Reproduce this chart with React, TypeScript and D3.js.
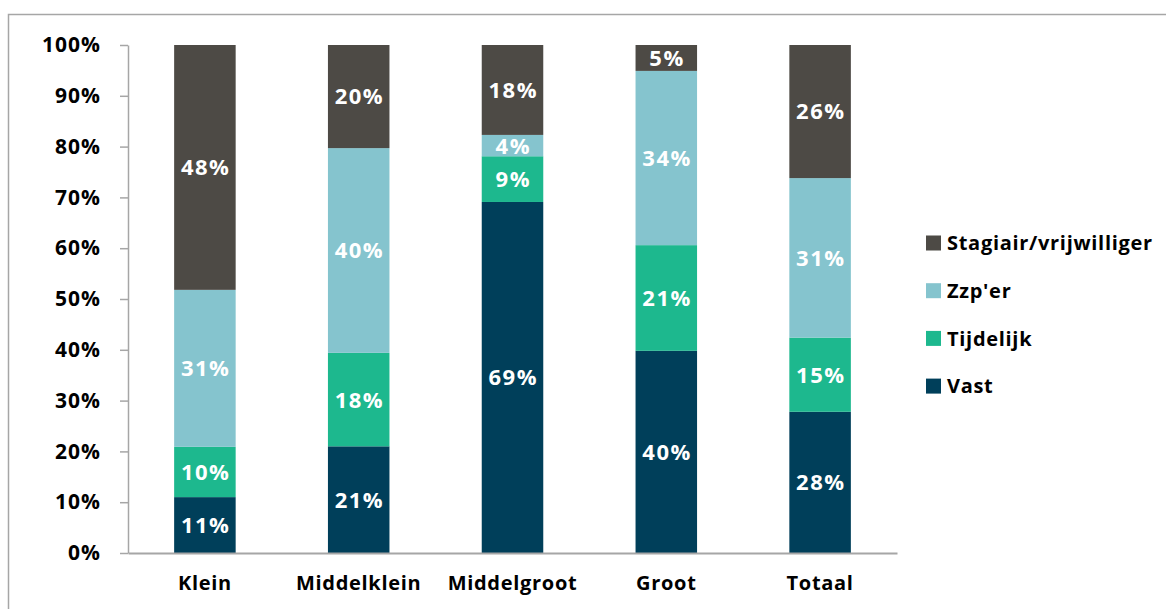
import React, { useEffect, useRef } from 'react';
import * as d3 from 'd3';

const categories = ['Klein', 'Middelklein', 'Middelgroot', 'Groot', 'Totaal'];
const seriesNames = ['Vast', 'Tijdelijk', "Zzp'er", 'Stagiair/vrijwilliger'];
const vast = [11, 21, 69.1, 39.8, 27.8];
const tijdelijk = [9.9, 18.4, 9, 20.8, 14.6];
const zzp = [30.9, 40.3, 4.2, 34.3, 31.4];
const stagiair = [48.2, 20.3, 17.7, 5.1, 26.2];
const yTicks = [0, 10, 20, 30, 40, 50, 60, 70, 80, 90, 100];
const colors = ['#003F5A', '#1DB88E', '#85C4CE', '#4D4A45'];

const App = () => {
  const ref = useRef<SVGSVGElement>(null);

  useEffect(() => {
    const svg = d3.select(ref.current);
    svg.selectAll('*').remove();

    const font = '"Open Sans", Lato, sans-serif';
    const margin = { top: 45, left: 128, right: 897, bottom: 553 };

    // outer frame
    svg.append('rect')
      .attr('x', 8.5).attr('y', 14.5)
      .attr('width', 1200).attr('height', 700)
      .attr('fill', 'none').attr('stroke', '#A6A6A6').attr('stroke-width', 1.5);

    const rows = categories.map((c, i) => ({
      cat: c,
      Vast: vast[i],
      Tijdelijk: tijdelijk[i],
      "Zzp'er": zzp[i],
      'Stagiair/vrijwilliger': stagiair[i],
    }));

    const stack = d3.stack<any>().keys(seriesNames)(rows);

    const x = d3.scaleBand()
      .domain(categories)
      .range([margin.left, margin.right])
      .paddingInner(0.6)
      .paddingOuter(0.3);

    const y = d3.scaleLinear().domain([0, 100]).range([margin.bottom, margin.top]);

    // bars
    stack.forEach((layer, si) => {
      const g = svg.append('g');
      g.selectAll('rect')
        .data(layer)
        .join('rect')
        .attr('x', d => x(d.data.cat)!)
        .attr('y', d => y(d[1]))
        .attr('width', x.bandwidth())
        .attr('height', d => y(d[0]) - y(d[1]))
        .attr('fill', colors[si]);
      g.selectAll('text')
        .data(layer)
        .join('text')
        .attr('x', d => x(d.data.cat)! + x.bandwidth() / 2 + 0.75)
        .attr('y', d => (y(d[0]) + y(d[1])) / 2)
        .attr('dy', '0.36em')
        .attr('text-anchor', 'middle')
        .attr('fill', '#fff')
        .attr('font-family', font)
        .attr('font-weight', 'bold')
        .attr('font-size', 22)
        .attr('letter-spacing', 1.5)
        .text(d => `${Math.round(d[1] - d[0])}%`);
    });

    // y axis
    const yAxis = svg.append('g')
      .attr('transform', `translate(${margin.left},0)`)
      .call(d3.axisLeft(y).tickValues(yTicks).tickSize(8).tickSizeOuter(0).tickFormat(d => `${d}%`));
    yAxis.select('.domain').attr('stroke', '#A6A6A6').attr('stroke-width', 1.5);
    yAxis.selectAll('.tick line').attr('stroke', '#A6A6A6').attr('stroke-width', 1.5);
    yAxis.selectAll('.tick text')
      .attr('x', -27)
      .attr('fill', '#000')
      .attr('font-family', font)
      .attr('font-weight', 'bold')
      .attr('font-size', 21)
      .attr('letter-spacing', 1);

    // x axis
    const xAxis = svg.append('g')
      .attr('transform', `translate(0,${margin.bottom})`)
      .call(d3.axisBottom(x).tickSize(0).tickSizeOuter(0));
    xAxis.select('.domain').attr('stroke', '#A6A6A6').attr('stroke-width', 2);
    xAxis.selectAll('.tick text')
      .attr('y', 23)
      .attr('fill', '#000')
      .attr('font-family', font)
      .attr('font-weight', 'bold')
      .attr('font-size', 20)
      .attr('letter-spacing', 0.7);

    // legend
    const legendItems = [...seriesNames].reverse();
    const legendColors = [...colors].reverse();
    const legend = svg.append('g').attr('transform', 'translate(926,243)');
    legendItems.forEach((name, i) => {
      legend.append('rect')
        .attr('x', 0).attr('y', i * 47.7 - 7.5)
        .attr('width', 15).attr('height', 15)
        .attr('fill', legendColors[i]);
      legend.append('text')
        .attr('x', 21).attr('y', i * 47.7)
        .attr('dy', '0.36em')
        .attr('fill', '#000')
        .attr('font-family', font)
        .attr('font-weight', 'bold')
        .attr('font-size', 20)
        .attr('letter-spacing', 0.7)
        .text(name);
    });
  }, []);

  return <svg ref={ref} width={1166} height={609} style={{ position: 'absolute', left: 0, top: 0 }}></svg>;
};

export default App;
